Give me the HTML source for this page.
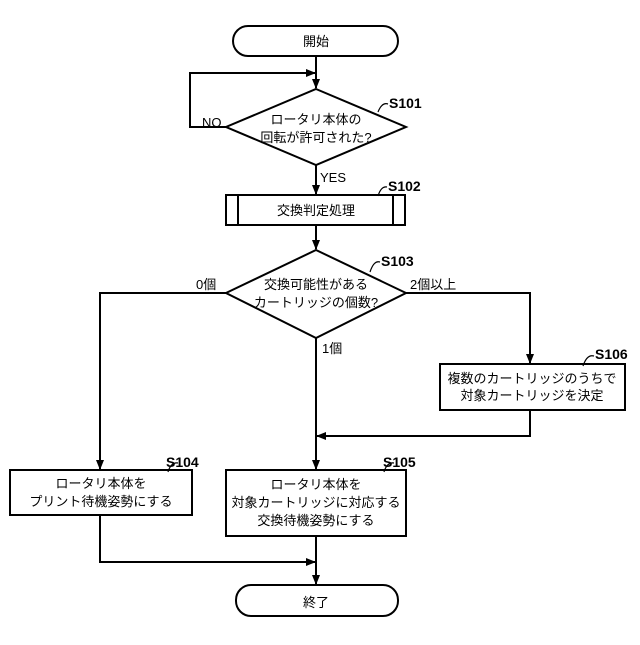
<!DOCTYPE html>
<html><head><meta charset="utf-8"><style>
body{margin:0;background:#fff}
svg text{font-family:"Liberation Sans","Noto Sans CJK JP",sans-serif;fill:#000}
</style></head><body>
<svg width="640" height="640" viewBox="0 0 640 640" xmlns="http://www.w3.org/2000/svg">
<defs><marker id="a" markerWidth="10" markerHeight="10" refX="9" refY="5" orient="auto" markerUnits="userSpaceOnUse"><path d="M0,1 L10,5 L0,9 Z" fill="#000"/></marker></defs>
<g fill="none" stroke="#000" stroke-width="2">
<rect x="233" y="26" width="165" height="30" rx="15"/>
<line x1="316" y1="56" x2="316" y2="88" marker-end="url(#a)"/>
<polygon points="316,89 406,127 316,165 226,127" fill="#fff"/>
<polyline points="226,127 190,127 190,73 315,73" marker-end="url(#a)"/>
<line x1="316" y1="165" x2="316" y2="194" marker-end="url(#a)"/>
<rect x="226" y="195" width="179" height="30"/>
<line x1="238" y1="195" x2="238" y2="225"/><line x1="393" y1="195" x2="393" y2="225"/>
<line x1="316" y1="225" x2="316" y2="249" marker-end="url(#a)"/>
<polygon points="316,250 406,293 316,338 226,293" fill="#fff"/>
<polyline points="226,293 100,293 100,469" marker-end="url(#a)"/>
<polyline points="406,293 530,293 530,363" marker-end="url(#a)"/>
<rect x="440" y="364" width="185" height="46"/>
<polyline points="530,410 530,436 317,436" marker-end="url(#a)"/>
<line x1="316" y1="338" x2="316" y2="469" marker-end="url(#a)"/>
<rect x="10" y="470" width="182" height="45"/>
<rect x="226" y="470" width="180" height="66"/>
<polyline points="100,515 100,562 315,562" marker-end="url(#a)"/>
<line x1="316" y1="536" x2="316" y2="584" marker-end="url(#a)"/>
<rect x="236" y="585" width="162" height="31" rx="15"/>
<g stroke-width="1.2">
<path d="M378,112 q4,-10 10,-8"/><path d="M378,196 q3,-10 9,-9"/><path d="M370,272 q4,-12 10,-10"/>
<path d="M583,366 q4,-12 11,-10"/><path d="M168,472 q3,-10 10,-9"/><path d="M384,472 q3,-10 10,-9"/>
</g>
</g>
<g font-size="13" text-anchor="middle">
<text x="316" y="46">開始</text>
<text x="316" y="124">ロータリ本体の</text>
<text x="316" y="142">回転が許可された?</text>
<text x="316" y="215">交換判定処理</text>
<text x="316" y="289">交換可能性がある</text>
<text x="316" y="307">カートリッジの個数?</text>
<text x="532" y="383">複数のカートリッジのうちで</text>
<text x="532" y="400">対象カートリッジを決定</text>
<text x="101" y="488">ロータリ本体を</text>
<text x="101" y="506">プリント待機姿勢にする</text>
<text x="316" y="489">ロータリ本体を</text>
<text x="316" y="507">対象カートリッジに対応する</text>
<text x="316" y="525">交換待機姿勢にする</text>
<text x="316" y="607">終了</text>
</g>
<g font-size="13">
<text x="202" y="127">NO</text>
<text x="320" y="182">YES</text>
<text x="196" y="289">0個</text>
<text x="410" y="289">2個以上</text>
<text x="322" y="353">1個</text>
</g>
<g font-size="14" font-weight="bold">
<text x="389" y="108">S101</text>
<text x="388" y="191">S102</text>
<text x="381" y="266">S103</text>
<text x="595" y="359">S106</text>
<text x="166" y="467">S104</text>
<text x="383" y="467">S105</text>
</g>
</svg>
</body></html>
